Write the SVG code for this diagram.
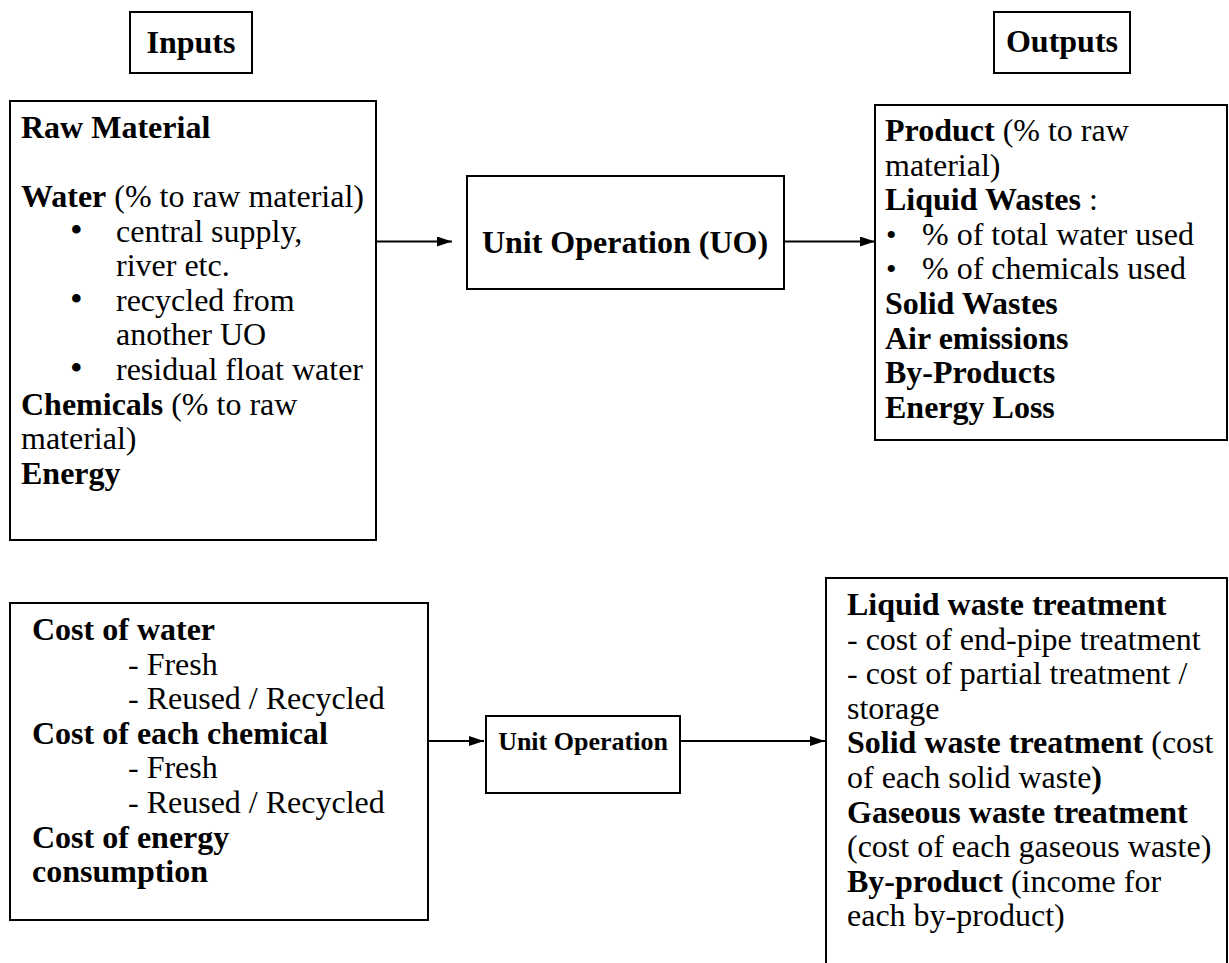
<svg xmlns="http://www.w3.org/2000/svg" width="1229" height="963" viewBox="0 0 1229 963">
  <style>
    .box { fill: #fff; stroke: #000; stroke-width: 2; }
    .t { font-family: "Liberation Serif", "Times New Roman", serif; font-size: 32px; fill: #000; }
    .b { font-weight: bold; }
    .mid { text-anchor: middle; }
    .bul { font-size: 36px; }
    .bul2 { font-size: 30px; }
    .small { font-size: 26px; }
    .link { stroke: #000; stroke-width: 2; fill: none; marker-end: url(#arrow); }
  </style>
  <defs>
    <marker id="arrow" markerUnits="userSpaceOnUse" markerWidth="16" markerHeight="12" refX="15" refY="5" orient="auto">
      <path d="M0,0 L15,5 L0,10 Z" fill="#000"/>
    </marker>
  </defs>
  <rect width="1229" height="963" fill="#fff"/>

  <!-- heading: inputs -->
  <g id="inputs-label">
    <rect class="box" x="130" y="12" width="122" height="61"/>
    <text class="t b mid" x="191" y="53">Inputs</text>
  </g>

  <!-- heading: outputs -->
  <g id="outputs-label">
    <rect class="box" x="994" y="12" width="136" height="61"/>
    <text class="t b mid" x="1062" y="52">Outputs</text>
  </g>

  <!-- material inputs -->
  <g id="inputs">
    <rect class="box" x="10" y="101" width="366" height="439"/>
    <text class="t b" x="21" y="138">Raw Material</text>
    <text class="t" x="21" y="207"><tspan class="b">Water</tspan> (% to raw material)</text>
    <text class="t" y="241.6"><tspan class="bul" x="70">•</tspan><tspan x="116">central supply,</tspan></text>
    <text class="t" x="116" y="276.2">river etc.</text>
    <text class="t" y="310.8"><tspan class="bul" x="70">•</tspan><tspan x="116">recycled from</tspan></text>
    <text class="t" x="116" y="345.4">another UO</text>
    <text class="t" y="380"><tspan class="bul" x="70">•</tspan><tspan x="116">residual float water</tspan></text>
    <text class="t" x="21" y="414.6"><tspan class="b">Chemicals</tspan> (% to raw</text>
    <text class="t" x="21" y="449.2">material)</text>
    <text class="t b" x="21" y="483.8">Energy</text>
  </g>

  <!-- unit operation (material balance) -->
  <g id="uo">
    <rect class="box" x="467" y="176" width="317" height="113"/>
    <text class="t b mid" x="625" y="253">Unit Operation (UO)</text>
  </g>

  <!-- material outputs -->
  <g id="outputs">
    <rect class="box" x="875" y="105" width="352" height="335"/>
    <text class="t" x="885" y="141"><tspan class="b">Product</tspan> (% to raw</text>
    <text class="t" x="885" y="175.6">material)</text>
    <text class="t" x="885" y="210.2"><tspan class="b">Liquid Wastes</tspan> :</text>
    <text class="t" y="244.8"><tspan class="bul2" x="886">•</tspan><tspan x="922">% of total water used</tspan></text>
    <text class="t" y="279.4"><tspan class="bul2" x="886">•</tspan><tspan x="922">% of chemicals used</tspan></text>
    <text class="t b" x="885" y="314">Solid Wastes</text>
    <text class="t b" x="885" y="348.6">Air emissions</text>
    <text class="t b" x="885" y="383.2">By-Products</text>
    <text class="t b" x="885" y="417.8">Energy Loss</text>
  </g>

  <!-- input costs -->
  <g id="costs">
    <rect class="box" x="10" y="603" width="418" height="317"/>
    <text class="t b" x="32" y="640">Cost of water</text>
    <text class="t" x="128" y="674.6">- Fresh</text>
    <text class="t" x="128" y="709.2">- Reused / Recycled</text>
    <text class="t b" x="32" y="743.8">Cost of each chemical</text>
    <text class="t" x="128" y="778.4">- Fresh</text>
    <text class="t" x="128" y="813">- Reused / Recycled</text>
    <text class="t b" x="32" y="847.6">Cost of energy</text>
    <text class="t b" x="32" y="882.2">consumption</text>
  </g>

  <!-- unit operation (cost balance) -->
  <g id="uo-cost">
    <rect class="box" x="486" y="716" width="194" height="77"/>
    <text class="t b mid small" x="583" y="750">Unit Operation</text>
  </g>

  <!-- treatment costs and income -->
  <g id="treatment">
    <rect class="box" x="826" y="578" width="401" height="400"/>
    <text class="t b" x="847" y="615">Liquid waste treatment</text>
    <text class="t" x="847" y="649.6">- cost of end-pipe treatment</text>
    <text class="t" x="847" y="684.2">- cost of partial treatment /</text>
    <text class="t" x="847" y="718.8">storage</text>
    <text class="t" x="847" y="753.4"><tspan class="b">Solid waste treatment</tspan> (cost</text>
    <text class="t" x="847" y="788">of each solid waste<tspan class="b">)</tspan></text>
    <text class="t b" x="847" y="822.6">Gaseous waste treatment</text>
    <text class="t" x="847" y="857.2">(cost of each gaseous waste)</text>
    <text class="t" x="847" y="891.8"><tspan class="b">By-product</tspan> (income for</text>
    <text class="t" x="847" y="926.4">each by-product)</text>
  </g>

  <!-- flow arrows -->
  <g id="connectors">
    <line class="link" x1="376" y1="241.5" x2="452" y2="241.5"/>
    <line class="link" x1="784" y1="241.5" x2="875" y2="241.5"/>
    <line class="link" x1="428" y1="741" x2="484" y2="741"/>
    <line class="link" x1="680" y1="741" x2="825" y2="741"/>
  </g>
</svg>
